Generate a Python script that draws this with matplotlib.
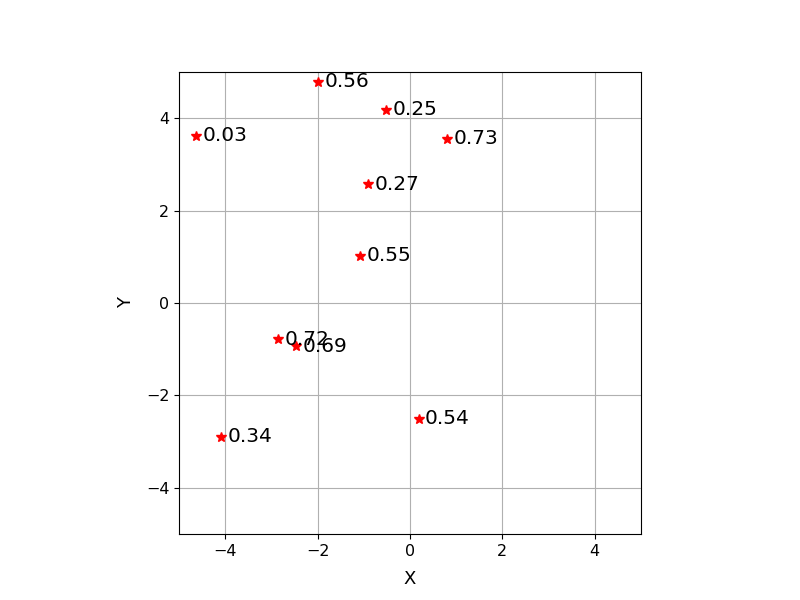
import matplotlib
matplotlib.use('Agg')
import matplotlib.pyplot as plt

xs = [-1.99, -0.52, -4.63, 0.81, -0.91, -1.08, -2.85, -2.46, -4.09, 0.19]
ys = [4.79, 4.18, 3.62, 3.55, 2.57, 1.02, -0.78, -0.94, -2.89, -2.50]
labels = ['0.56', '0.25', '0.03', '0.73', '0.27', '0.55', '0.72', '0.69', '0.34', '0.54']

fig, ax = plt.subplots(figsize=(8, 6), dpi=100)
ax.plot(xs, ys, 'r*', linestyle='none', markersize=7)
for x, y, s in zip(xs, ys, labels):
    ax.annotate(s, (x, y), xytext=(4.5, 0), textcoords='offset points',
                va='center', ha='left', fontsize=14.5)

ax.set_xlim(-5, 5)
ax.set_ylim(-5, 5)
ax.set_aspect('equal')
ax.grid(True)
ax.tick_params(labelsize=11.5)
ax.set_xlabel('X', fontsize=13, labelpad=8)
ax.set_ylabel('Y', fontsize=13, labelpad=8)
fig.savefig('out.png')
